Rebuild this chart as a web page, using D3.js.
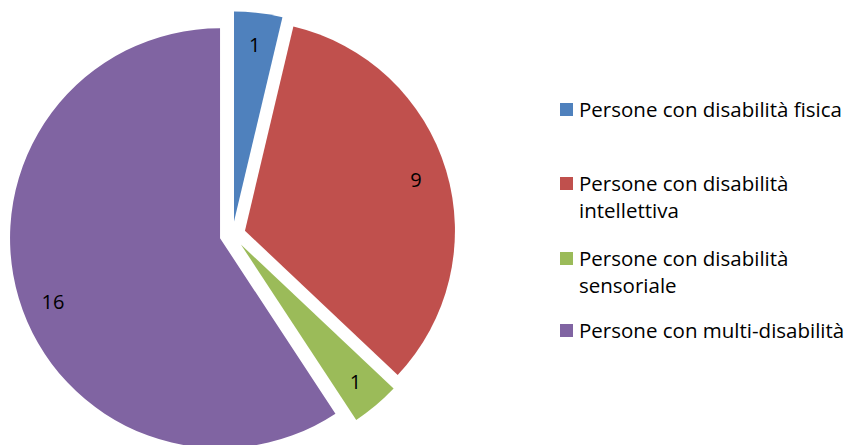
<!DOCTYPE html>
<html>
<head>
<meta charset="utf-8">
<script src="https://cdn.jsdelivr.net/npm/d3@7"></script>
<style>
  body { margin: 0; background: #fff; }
  svg { display: block; }
</style>
</head>
<body>
<div id="viz"></div>
<script>
'use strict';

const categories = [
  'Persone con disabilità fisica',
  'Persone con disabilità intellettiva',
  'Persone con disabilità sensoriale',
  'Persone con multi-disabilità'
];
const values = [1, 9, 1, 16];
const legendLines = [
  ['Persone con disabilità fisica'],
  ['Persone con disabilità', 'intellettiva'],
  ['Persone con disabilità', 'sensoriale'],
  ['Persone con multi-disabilità']
];
const colors = ['#4f81bd', '#c0504d', '#9bbb59', '#8064a2'];

const width = 852;
const height = 445;
const font = '"Open Sans", "Liberation Sans", sans-serif';

const svg = d3.select('#viz')
  .append('svg')
    .attr('width', width)
    .attr('height', height);

// pie geometry
const cx = 232.5, cy = 234.5;
const radius = 210;
const explode = 13;

const pie = d3.pie().sort(null).value(d => d);
const arcs = pie(values);

const arc = d3.arc().innerRadius(0).outerRadius(radius);

const g = svg.append('g')
  .attr('transform', `translate(${cx},${cy})`);

const slices = g.selectAll('g.slice')
  .data(arcs)
  .enter()
  .append('g')
    .attr('class', 'slice')
    .attr('transform', d => {
      const a = (d.startAngle + d.endAngle) / 2;
      return `translate(${Math.sin(a) * explode},${-Math.cos(a) * explode})`;
    });

slices.append('path')
  .attr('d', arc)
  .attr('fill', (d, i) => colors[i]);

// data labels, a bit inside the outer edge
const labelAngle = d => {
  const a = (d.startAngle + d.endAngle) / 2;
  return d.data > 10 ? a - 0.07 : a;
};

slices.append('text')
  .attr('x', d => Math.sin(labelAngle(d)) * radius * 0.85)
  .attr('y', d => -Math.cos(labelAngle(d)) * radius * 0.85)
  .attr('text-anchor', 'middle')
  .attr('dominant-baseline', 'central')
  .style('font-family', font)
  .style('font-size', '20px')
  .attr('fill', '#000')
  .text(d => d.data);

// legend
const legendY = [110, 184, 259, 331];
const legend = svg.append('g');

const items = legend.selectAll('g.item')
  .data(categories)
  .enter()
  .append('g')
    .attr('class', 'item')
    .attr('transform', (d, i) => `translate(560,${legendY[i]})`);

items.append('rect')
  .attr('x', 0)
  .attr('y', -7)
  .attr('width', 13)
  .attr('height', 13)
  .attr('fill', (d, i) => colors[i]);

items.append('text')
  .attr('x', 19)
  .attr('y', 7)
  .style('font-family', font)
  .style('font-size', '20.5px')
  .attr('fill', '#000')
  .selectAll('tspan')
  .data((d, i) => legendLines[i])
  .enter()
  .append('tspan')
    .attr('x', 19)
    .attr('dy', (d, j) => j === 0 ? 0 : 27)
    .text(d => d);
</script>
</body>
</html>
